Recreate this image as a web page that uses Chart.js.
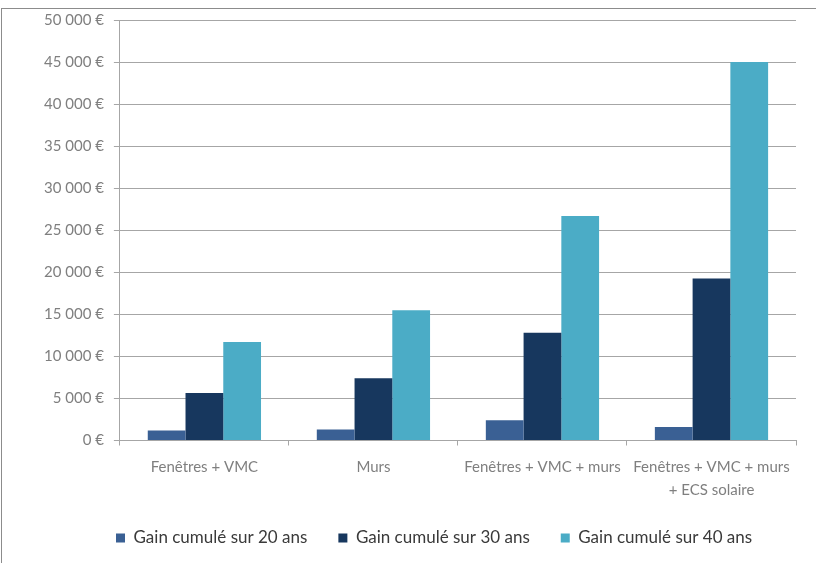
<!DOCTYPE html>
<html lang="fr">
<head>
<meta charset="utf-8">
<title>Gain cumulé</title>
<script src="https://cdn.jsdelivr.net/npm/chart.js@4/dist/chart.umd.min.js"></script>
<style>
  html, body { margin: 0; padding: 0; background: #ffffff; }
  #wrap { position: relative; width: 816px; height: 563px; overflow: hidden; }
  #frame { position: absolute; left: 1px; top: 8px; right: -2px; bottom: -2px;
           border-top: 1px solid #8c8c8c; border-left: 1px solid #8c8c8c; }
  #chart { position: absolute; left: 0; top: 0; }
</style>
</head>
<body>
<div id="wrap">
  <div id="frame"></div>
  <canvas id="chart" width="816" height="563"></canvas>
</div>
<script>
// Travaux envisagés
const categories = [
  'Fenêtres + VMC',
  'Murs',
  'Fenêtres + VMC + murs',
  ['Fenêtres + VMC + murs', '+ ECS solaire']
];

// Gains cumulés (€)
const gain20 = [1200, 1300, 2400, 1600];
const gain30 = [5650, 7400, 12800, 19250];
const gain40 = [11700, 15500, 26700, 45000];

const seriesNames = ['Gain cumulé sur 20 ans', 'Gain cumulé sur 30 ans', 'Gain cumulé sur 40 ans'];

// Axe des ordonnées
const yMin = 0;
const yMax = 50000;
const yStep = 5000;

const FONT = 'Lato, "Open Sans", sans-serif';

function euro(v) {
  return String(v).replace(/\B(?=(\d{3})+(?!\d))/g, ' ') + ' €';
}

// Place the legend row: first box at x = 116, text centred on y = 538
const legendPlace = {
  id: 'legendPlace',
  afterLayout(chart) {
    const lg = chart.legend;
    if (!lg || !lg.lineWidths) return;
    const pad = lg.options.labels.padding;
    const size = lg.options.labels.font.size;
    const start = (lg.left + pad + lg.right - lg.lineWidths[0]) / 2;
    const dx = 116 - start;
    lg.left += dx; lg.right += dx;
    const h = lg.bottom - lg.top;
    lg.top = 538 - pad - size / 2;
    lg.bottom = lg.top + h;
  }
};

new Chart(document.getElementById('chart'), {
  type: 'bar',
  data: {
    labels: categories,
    datasets: [
      { label: seriesNames[0], data: gain20, backgroundColor: '#3a6094' },
      { label: seriesNames[1], data: gain30, backgroundColor: '#17375e' },
      { label: seriesNames[2], data: gain40, backgroundColor: '#4bacc6' }
    ]
  },
  plugins: [legendPlace],
  options: {
    responsive: false,
    animation: false,
    devicePixelRatio: 1,
    layout: { padding: { top: 20, right: 20, bottom: -7, left: 34 } },
    datasets: {
      bar: { categoryPercentage: 0.67, barPercentage: 1.0, borderWidth: 0 }
    },
    plugins: {
      tooltip: { enabled: false },
      legend: {
        position: 'bottom',
        labels: {
          boxWidth: 9,
          boxHeight: 9,
          padding: 31,
          color: '#3a3a3a',
          font: { family: FONT, size: 17 }
        }
      }
    },
    scales: {
      x: {
        grid: { drawOnChartArea: false, drawTicks: true, tickLength: 5, color: '#a6a6a6' },
        border: { color: '#a6a6a6' },
        ticks: {
          color: '#7f7f7f',
          padding: 10,
          maxRotation: 0,
          autoSkip: false,
          font: { family: FONT, size: 15, lineHeight: 1.55 }
        }
      },
      y: {
        min: yMin,
        max: yMax,
        grid: { color: '#a6a6a6', tickLength: 6 },
        border: { color: '#a6a6a6' },
        ticks: {
          stepSize: yStep,
          color: '#7f7f7f',
          padding: 10,
          font: { family: FONT, size: 15 },
          callback: (v) => euro(v)
        }
      }
    }
  }
});
</script>
</body>
</html>
